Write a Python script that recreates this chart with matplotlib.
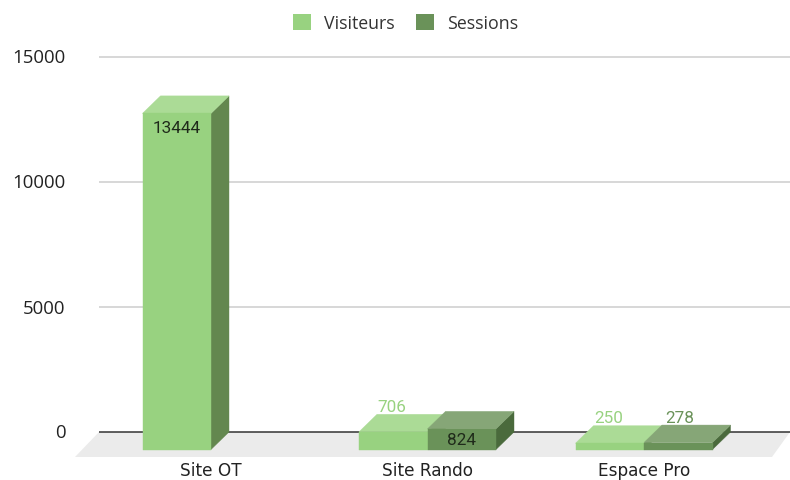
import numpy as np
import matplotlib
matplotlib.use("Agg")
import matplotlib.pyplot as plt
from matplotlib.patches import Polygon, Rectangle, Patch
from matplotlib.transforms import ScaledTranslation

categories = ["Site OT", "Site Rando", "Espace Pro"]
visiteurs = [13444, 706, 250]
sessions = [None, 824, 278]
y_ticks = [0, 5000, 10000, 15000]

W, H = 790, 481
PX_X = 216.5          # pixels per category
PX_Y = 0.025          # pixels per value unit
X0, Y0 = 211, 433     # pixel of category 0 / value 0
L, B, T = 75, 458, 40 # axes edges in pixels

fig = plt.figure(figsize=(W / 100, H / 100), dpi=100, facecolor="white")
ax = fig.add_axes([L / W, 1 - B / H, (W - L) / W, (B - T) / H])
ax.set_xlim((L - X0) / PX_X, (W - X0) / PX_X)
ax.set_ylim((Y0 - B) / PX_Y, (Y0 - T) / PX_Y)
for s in ax.spines.values():
    s.set_visible(False)

dx = 18 / PX_X         # depth in category units
dy = 17.5 / PX_Y       # depth in value units
bw = 68.5 / PX_X       # bar width
base = -dy

# floor
x_r, x_l = ax.get_xlim()[1], ax.get_xlim()[0]
x_g = (99 - X0) / PX_X
floor_low = ax.get_ylim()[0]
ax.add_patch(Polygon([(x_g, 0), (x_r, 0), (x_r - dx, floor_low), (x_l, floor_low)],
                     closed=True, fc="#ebebeb", ec="none", zorder=1))
# grid
for t in y_ticks:
    if t == 0:
        ax.plot([x_g, x_r], [0, 0], color="#333333", lw=1.1, zorder=2, solid_capstyle="butt")
    else:
        ax.plot([x_g, x_r], [t + 20, t + 20], color="#d4d4d4", lw=1.3, zorder=2, solid_capstyle="butt")


def bar3d(x, v, front, side, top, z):
    y = base + v
    ax.add_patch(Polygon([(x + bw, base), (x + bw + dx, 0), (x + bw + dx, v), (x + bw, y)],
                         closed=True, fc=side, ec=side, lw=0.3, zorder=z))
    ax.add_patch(Polygon([(x, y), (x + dx, v), (x + bw + dx, v), (x + bw, y)],
                         closed=True, fc=top, ec=top, lw=0.3, zorder=z))
    ax.add_patch(Rectangle((x, base), bw, v, fc=front, ec=front, lw=0.3, zorder=z))


C_V = ("#98d280", "#63874f", "#abdb96")
C_S = ("#6a9259", "#4a6a3c", "#86a677")
TXT = "#1f2a1a"
LBL = dict(ha="center", va="center", fontsize=12.3, family="Roboto", zorder=10)

for i, (v, s) in enumerate(zip(visiteurs, sessions)):
    left = i - bw
    bar3d(left, v, *C_V, 3 + i)
    if s is not None:
        bar3d(i, s, *C_S, 3.5 + i)
    # value labels
    if s is None:
        ax.text(left + bw / 2, v - dy - 14 / PX_Y, str(v), color=TXT, **LBL)
    else:
        ax.text(left + bw / 2 - 1 / PX_X, v + 8 / PX_Y, str(v), color=C_V[0], **LBL)
        if i == 1:
            ax.text(i + bw / 2, s - dy - 11 / PX_Y, str(s), color=TXT, **LBL)
        else:
            ax.text(i + bw / 2 + 1 / PX_X, s + 8 / PX_Y, str(s), color=C_S[0], **LBL)

ax.set_xticks(range(len(categories)))
ax.set_xticklabels(categories, fontsize=12.2, family="DejaVu Sans", color="#222222")
ax.set_yticks(y_ticks)
ax.tick_params(axis="both", length=0)
ax.tick_params(axis="x", pad=3)
ax.tick_params(axis="y", pad=7, labelsize=13.4, labelcolor="#222222")
shift = ScaledTranslation(0, 1.5 / 100, fig.dpi_scale_trans)
for lab in ax.get_yticklabels():
    lab.set_family("Open Sans")
    lab.set_transform(lab.get_transform() + shift)

handles = [Patch(fc=C_V[0], ec="none", label="Visiteurs"),
           Patch(fc=C_S[0], ec="none", label="Sessions")]
leg = fig.legend(handles=handles, loc="center", bbox_to_anchor=(406 / W, 1 - 24 / H),
                 ncol=2, frameon=False, labelcolor="#333333",
                 handlelength=1.0, handleheight=1.0, handletextpad=0.75, columnspacing=1.2,
                 prop=dict(family="Open Sans", size=12.8))

fig.savefig("out.png", dpi=100, facecolor="white")
